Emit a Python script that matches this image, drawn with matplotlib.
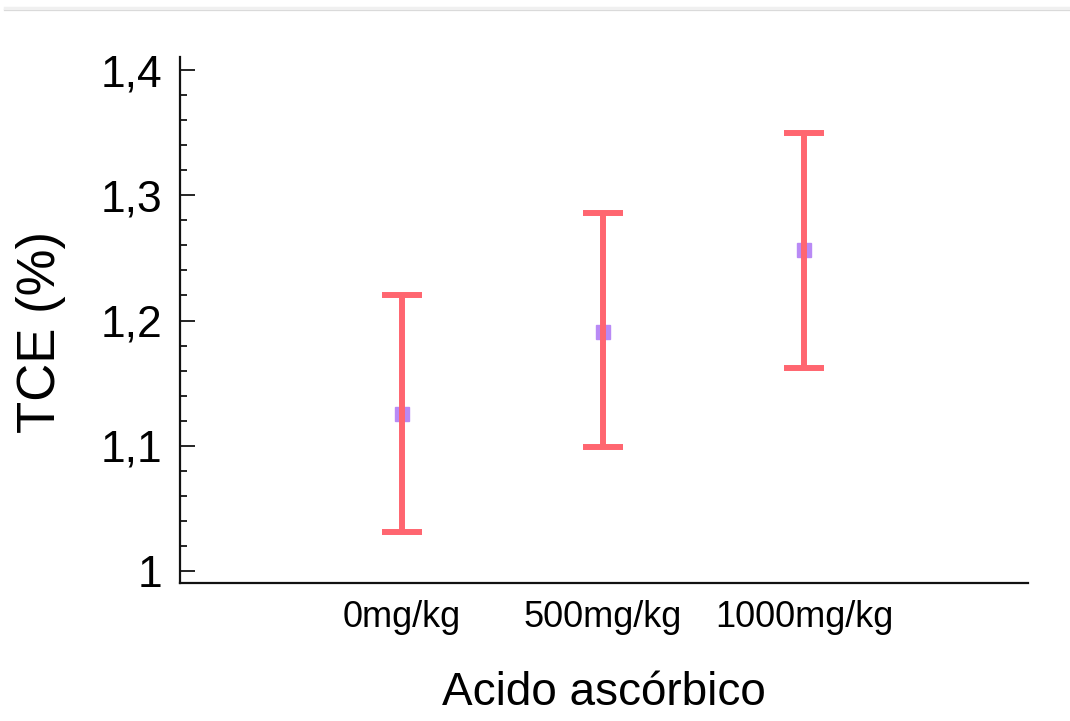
import numpy as np
import matplotlib.pyplot as plt
from matplotlib.lines import Line2D

# data
categories = ['0mg/kg', '500mg/kg', '1000mg/kg']
means = [1.125, 1.191, 1.256]
upper = [1.220, 1.286, 1.350]
lower = [1.031, 1.099, 1.162]

plt.rcParams['font.family'] = ['Liberation Sans', 'DejaVu Sans']

fig = plt.figure(figsize=(10.7, 7.21), dpi=100)
ax = fig.add_axes([0.1682, 0.1914, 0.7925, 0.7295])

x = np.arange(len(categories))
yerr = [np.array(means) - np.array(lower), np.array(upper) - np.array(means)]

# marker sits under the error bar
ax.plot(x, means, 's', color='#b98af5', markersize=9.5, zorder=2)
ax.errorbar(x, means, yerr=yerr, fmt='none', ecolor='#ff6670',
            elinewidth=4.3, capsize=14.5, capthick=4.3, zorder=3)

ax.set_xlim(-1.104, 3.114)
ax.set_ylim(0.9904, 1.4104)
ax.set_xticks(x)
ax.set_xticklabels(categories, fontsize=26)
ax.set_yticks([1.0, 1.1, 1.2, 1.3, 1.4])
ax.set_yticklabels(['1', '1,1', '1,2', '1,3', '1,4'], fontsize=32)
ax.set_yticks(np.arange(1.0, 1.41, 0.02), minor=True)

ax.tick_params(axis='x', length=0, pad=12)
ax.tick_params(axis='y', which='major', direction='in', length=11, width=1.2, pad=13)
ax.tick_params(axis='y', which='minor', direction='in', length=5, width=1.2)

for side in ['top', 'right']:
    ax.spines[side].set_visible(False)
for side in ['left', 'bottom']:
    ax.spines[side].set_linewidth(1.6)
    ax.spines[side].set_color('#111111')

ax.set_ylabel('TCE (%)', fontsize=38)
ax.yaxis.set_label_coords(-0.134, 0.478)
ax.set_xlabel('Acido ascórbico', fontsize=33, labelpad=26)

# thin gray bar along the top of the image
fig.add_artist(Line2D([0.005, 1.0], [0.986, 0.986], color='#d4d4d4', linewidth=1.6))
fig.add_artist(Line2D([0.005, 1.0], [0.989, 0.989], color='#f0f0f0', linewidth=2.5))

fig.savefig('out.png', dpi=100)
